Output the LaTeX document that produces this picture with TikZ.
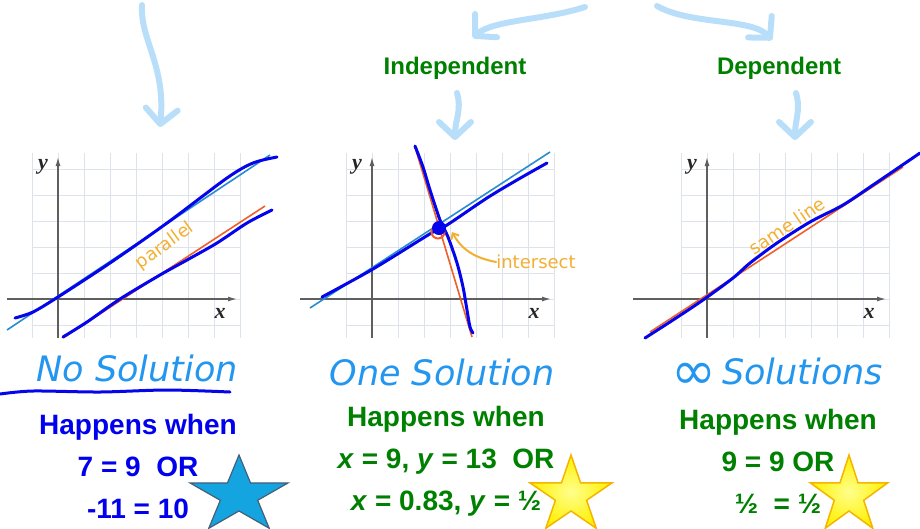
\documentclass[tikz,border=0pt]{standalone}
\usepackage{fontspec}
\setmainfont{Liberation Sans}
\newfontfamily\handfont{DejaVu Sans}
\newfontfamily\axisfont{Liberation Serif}
\usetikzlibrary{arrows.meta}
\definecolor{penblue}{RGB}{5,5,235}
\definecolor{lineblue}{RGB}{40,140,210}
\definecolor{lineorange}{RGB}{240,95,40}
\definecolor{noteorange}{RGB}{242,175,50}
\definecolor{titleblue}{RGB}{35,150,240}
\definecolor{arrowblue}{RGB}{185,222,250}
\definecolor{textgreen}{RGB}{0,128,0}
\definecolor{textblue}{RGB}{0,0,238}
\definecolor{gridgray}{RGB}{222,226,234}
\definecolor{axisgray}{RGB}{95,95,95}
\definecolor{starblue}{RGB}{20,165,225}
\definecolor{starrim}{RGB}{70,95,120}
\definecolor{staryellow}{RGB}{255,240,0}
\definecolor{stargold}{RGB}{245,180,0}
% star: centre x, centre y, horizontal stretch, style
\newcommand{\drawstar}[4]{%
  \draw[#4] plot[samples at={0,...,9}, variable=\k]
    ({#1+#3*40.5*(1-0.618*mod(\k,2))*cos(-90+36*\k)},
     {#2+40.5*(1-0.618*mod(\k,2))*sin(-90+36*\k)}) -- cycle;}

\begin{document}
\begin{tikzpicture}[
    x=1pt, y=-1pt,
    every node/.style={inner sep=0pt},
    gridline/.style={draw=gridgray, line width=0.8pt},
    axis/.style={draw=axisgray, line width=1.3pt, -{Latex[length=9pt,width=5pt]}},
    axislabel/.style={font=\axisfont\bfseries\itshape\fontsize{22}{22}\selectfont, text=black!85},
    thinline/.style={line width=1.6pt},
    penline/.style={draw=penblue, line width=3pt, line cap=round, line join=round},
    bigarrow/.style={draw=arrowblue, line width=6pt, line cap=round,
      -{Straight Barb[length=15pt,width=32pt,round]}},
    title/.style={font=\handfont\itshape\fontsize{35}{35}\selectfont, text=titleblue},
    note/.style={font=\handfont\fontsize{18}{18}\selectfont, text=noteorange},
    kind/.style={font=\bfseries\fontsize{24}{24}\selectfont, text=textgreen},
    happen/.style={font=\bfseries\fontsize{28}{42}\selectfont, align=center}
  ]
  \useasboundingbox (0,0) rectangle (920,528);

  % grids and axes
  \foreach \ox/\xl in {58/7, 372/300, 707/633} {
    \foreach \i in {-1,...,7}
      \draw[gridline] (\ox+26.1*\i,153) -- (\ox+26.1*\i,338);
    \foreach \j in {-5,...,1}
      \draw[gridline] (\ox-26,299+26*\j) -- (\ox+183,299+26*\j);
    \draw[axis] (\xl,299) -- (\ox+179,299);
    \draw[axis] (\ox,338) -- (\ox,157);
    \node[axislabel] (ylab\ox) at (\ox-15,167) {y};
    \node[axislabel] (xlab\ox) at (\ox+162,313) {x};
  }

  % no solution
  \draw[thinline, lineblue] (7,330) -- (270,155);
  \draw[thinline, lineorange] (63,338) -- (265,206);
  \draw[penline] plot[smooth] coordinates {(15,318) (33,312) (58,297) (110,263) (167,223) (227,178) (253,163) (277,157)};
  \draw[penline] plot[smooth] coordinates {(63,337) (87,322) (120,299) (160,275) (187,260) (217,243) (247,223) (272,210)};
  \node[note, rotate=36] (par) at (165,246) {parallel};

  % one solution
  \draw[thinline, lineblue] (310,308) -- (550,152);
  \draw[thinline, lineorange] (415,147) -- (472,337);
  \draw[penline] plot[smooth] coordinates {(322,297) (373,269) (433,232) (447,225) (487,198) (517,180) (547,163)};
  \draw[penline] plot[smooth] coordinates {(415,146) (423,167) (430,190) (440,220) (448,237) (457,263) (463,287) (467,310) (470,327) (473,333)};
  \draw[lineorange, line width=2pt] (438,232) circle (6.5pt);
  \fill[penblue] (439,228) circle (7pt);
  \node[note] (inter) at (536,262) {intersect};
  \coordinate (ipt) at (452,232);
  \draw[noteorange, line width=2pt, line cap=round, -{Straight Barb[length=5pt,width=9pt]}]
    (inter.west) .. controls (475,258) and (462,250) .. (ipt);

  % infinite solutions
  \draw[thinline, lineorange] (650,332) -- (903,167);
  \draw[penline] plot[smooth] coordinates {(645,338) (673,320) (703,300) (733,278) (750,263) (777,243) (810,222) (843,205) (873,185) (920,153)};
  \node[note, rotate=34] (same) at (787,226) {same line};

  % headings and arrows
  \node[kind] (indep) at (455,68) {Independent};
  \node[kind] (dep) at (779,68) {Dependent};
  \coordinate (a1s) at (142,5);   \coordinate (a1e) at (160,127);
  \coordinate (a2s) at (585,7);   \coordinate (a2e) at (473,38);
  \coordinate (a3s) at (457,93);  \coordinate (a3e) at (455,140);
  \coordinate (a4s) at (657,6);   \coordinate (a4e) at (772,40);
  \coordinate (a5s) at (796,93);  \coordinate (a5e) at (795,140);
  \draw[bigarrow] (a1s) .. controls (140,40) and (166,65) .. (a1e);
  \draw[bigarrow] (a2s) .. controls (545,20) and (492,20) .. (a2e);
  \draw[bigarrow] (a3s) .. controls (462,110) and (455,120) .. (a3e);
  \draw[bigarrow] (a4s) .. controls (690,25) and (752,18) .. (a4e);
  \draw[bigarrow] (a5s) .. controls (801,110) and (795,120) .. (a5e);

  % titles
  \node[title] (none) at (137,368) {No Solution};
  \draw[penline] plot[smooth] coordinates {(0,394) (33,391) (100,392) (167,390) (230,392)};
  \node[title] (one) at (442,372) {One Solution};
  \node[title, anchor=base] (many) at (777,384) {\raisebox{-5pt}{\upshape\fontsize{54}{35}\selectfont ∞}\,Solutions};

  % conditions
  \node[happen, text=textblue] (condA) at (138,466) {Happens when\\7 = 9~~OR\\-11 = 10};
  \node[happen, text=textgreen] (condB) at (446,461) {Happens when\\\textit{x} = 9, \textit{y} = 13~~OR\\\textit{x} = 0.83, \textit{y} = ½};
  \node[happen, text=textgreen] (condC) at (778,461) {Happens when\\9 = 9 OR\\½~~= ½};

  % stars
  \drawstar{239}{495.5}{1.27}{fill=starblue, draw=starrim, line width=1.2pt}
  \drawstar{571}{495.5}{1.06}{draw=stargold, line width=1.5pt, inner color=yellow!45!white, outer color=staryellow}
  \drawstar{849}{495.5}{1.0}{draw=stargold, line width=1.5pt, inner color=yellow!45!white, outer color=staryellow}
\end{tikzpicture}
\end{document}
